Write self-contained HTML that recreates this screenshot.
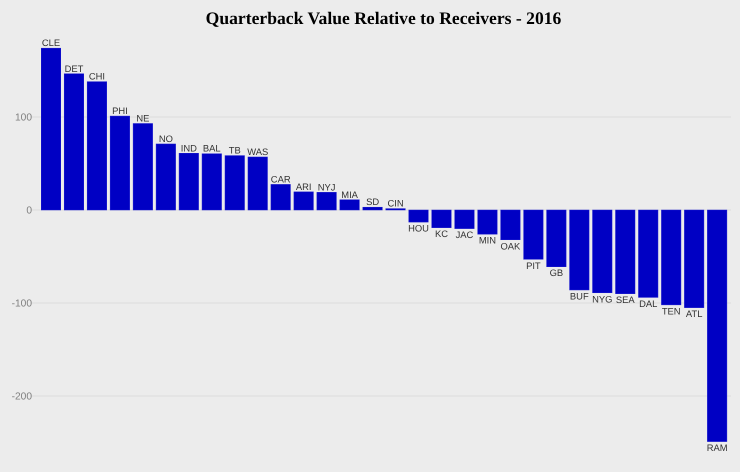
<!DOCTYPE html>
<html>
<head>
<meta charset="utf-8">
<style>
html,body{margin:0;padding:0;background:#ececec;width:740px;height:472px;overflow:hidden}
svg{display:block}
text{font-family:"Liberation Sans",sans-serif;text-rendering:geometricPrecision}
</style>
</head>
<body>
<svg id="chart" width="740" height="472" viewBox="0 0 740 472" xmlns="http://www.w3.org/2000/svg">
<rect width="740" height="472" fill="#ececec"/>
<text x="383.5" y="24" text-anchor="middle" style="font-family:'Liberation Serif',serif;font-weight:bold;font-size:17.6px" fill="#000">Quarterback Value Relative to Receivers - 2016</text>
<g id="grid"></g>
<g id="bars"></g>
<g id="labels"></g>
</svg>
<script>
const teams = ["CLE","DET","CHI","PHI","NE","NO","IND","BAL","TB","WAS","CAR","ARI","NYJ","MIA","SD","CIN","HOU","KC","JAC","MIN","OAK","PIT","GB","BUF","NYG","SEA","DAL","TEN","ATL","RAM"];
const values = [174,146.5,138,101,93,71,61,60.5,58.5,57,27.5,19.5,19,11,3,1.5,-13,-19,-20,-26,-32,-53,-61,-86,-89,-90,-94,-102,-105,-249];
const yTicks = [100,0,-100,-200];

const NS = "http://www.w3.org/2000/svg";
const yOf = v => 210 - v * 0.93;
const xOf = i => 41 + i * 22.97;
const barW = 20;

function make(tag, attrs, parent) {
  const el = document.createElementNS(NS, tag);
  for (const k in attrs) el.setAttribute(k, attrs[k]);
  parent.appendChild(el);
  return el;
}

const grid = document.getElementById("grid");
const bars = document.getElementById("bars");
const labels = document.getElementById("labels");

yTicks.forEach(t => {
  const line = make("line", {x1: 31, x2: 731, y1: yOf(t), y2: yOf(t), stroke: "#dcdcdc", "stroke-width": 1}, grid);
  
  
  const tick = make("text", {x: 32, y: yOf(t) + 3.7, "text-anchor": "end", "font-size": 10.2, fill: "#7f7f7f"}, grid);
  
  
  tick.textContent = t;
});

values.forEach((v, i) => {
  const top = Math.min(yOf(v), yOf(0));
  const h = Math.abs(yOf(v) - yOf(0));
  const bar = make("rect", {x: xOf(i) + 0.25, y: top, width: barW - 0.5, height: h, fill: "#0000c4", stroke: "#1a1ad0", "stroke-width": 0.5}, bars);
  
  
  const ly = v >= 0 ? yOf(v) - 2 : yOf(v) + 9.5;
  const label = make("text", {x: xOf(i) + barW / 2, y: ly, "text-anchor": "middle", "font-size": 9.4, fill: "#333"}, labels);
  
  
  label.textContent = teams[i];
});
</script>
</body>
</html>
